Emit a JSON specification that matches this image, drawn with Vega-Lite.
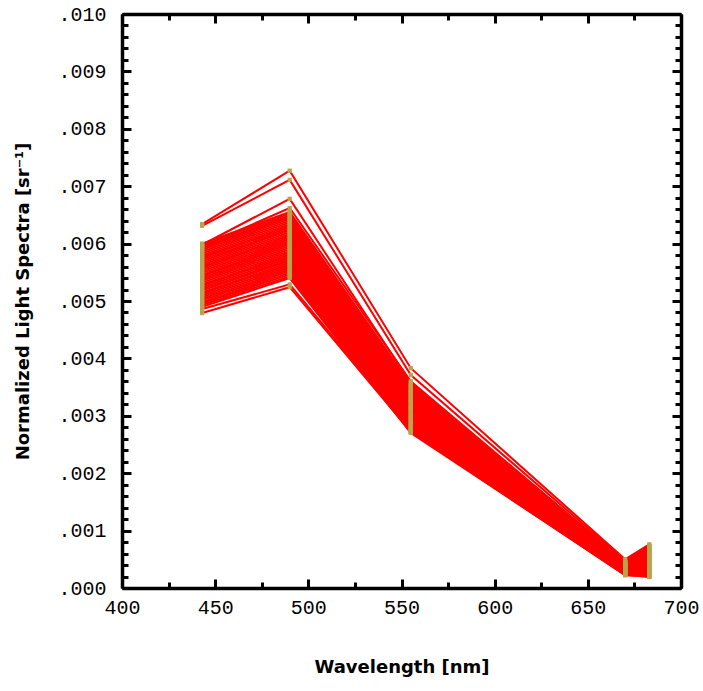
{
"$schema": "https://vega.github.io/schema/vega-lite/v6.json",
"width": 559, "height": 574,
"autosize": {"type": "none"},
"padding": {"left": 122, "top": 14, "right": 22, "bottom": 103},
"background": "white",
"config": {"view": {"stroke": null},
 "axis": {"grid": false, "domainColor": "#000", "domainWidth": 3.5, "tickColor": "#000", "tickWidth": 3, "labelOverlap": false, "labelFlush": false, "labelBound": false, "labelFont": "Liberation Mono", "labelFontSize": 20, "labelColor": "#000", "titleFont": "DejaVu Sans", "titleFontSize": 18, "titleFontWeight": "bold", "titleColor": "#000"}},
"data": {"values": [
{"s":"m0","w":443,"v":0.00490},{"s":"m0","w":490,"v":0.00540},{"s":"m0","w":555,"v":0.00270},{"s":"m0","w":670,"v":0.000230},{"s":"m0","w":683,"v":0.000190},
{"s":"m1","w":443,"v":0.00493},{"s":"m1","w":490,"v":0.00543},{"s":"m1","w":555,"v":0.00272},{"s":"m1","w":670,"v":0.000236},{"s":"m1","w":683,"v":0.000203},
{"s":"m2","w":443,"v":0.00496},{"s":"m2","w":490,"v":0.00546},{"s":"m2","w":555,"v":0.00274},{"s":"m2","w":670,"v":0.000241},{"s":"m2","w":683,"v":0.000216},
{"s":"m3","w":443,"v":0.00498},{"s":"m3","w":490,"v":0.00549},{"s":"m3","w":555,"v":0.00276},{"s":"m3","w":670,"v":0.000247},{"s":"m3","w":683,"v":0.000229},
{"s":"m4","w":443,"v":0.00501},{"s":"m4","w":490,"v":0.00552},{"s":"m4","w":555,"v":0.00279},{"s":"m4","w":670,"v":0.000252},{"s":"m4","w":683,"v":0.000242},
{"s":"m5","w":443,"v":0.00504},{"s":"m5","w":490,"v":0.00555},{"s":"m5","w":555,"v":0.00281},{"s":"m5","w":670,"v":0.000258},{"s":"m5","w":683,"v":0.000255},
{"s":"m6","w":443,"v":0.00507},{"s":"m6","w":490,"v":0.00558},{"s":"m6","w":555,"v":0.00283},{"s":"m6","w":670,"v":0.000264},{"s":"m6","w":683,"v":0.000268},
{"s":"m7","w":443,"v":0.00510},{"s":"m7","w":490,"v":0.00561},{"s":"m7","w":555,"v":0.00285},{"s":"m7","w":670,"v":0.000269},{"s":"m7","w":683,"v":0.000281},
{"s":"m8","w":443,"v":0.00513},{"s":"m8","w":490,"v":0.00564},{"s":"m8","w":555,"v":0.00287},{"s":"m8","w":670,"v":0.000275},{"s":"m8","w":683,"v":0.000294},
{"s":"m9","w":443,"v":0.00515},{"s":"m9","w":490,"v":0.00567},{"s":"m9","w":555,"v":0.00289},{"s":"m9","w":670,"v":0.000280},{"s":"m9","w":683,"v":0.000307},
{"s":"m10","w":443,"v":0.00518},{"s":"m10","w":490,"v":0.00570},{"s":"m10","w":555,"v":0.00292},{"s":"m10","w":670,"v":0.000286},{"s":"m10","w":683,"v":0.000320},
{"s":"m11","w":443,"v":0.00521},{"s":"m11","w":490,"v":0.00572},{"s":"m11","w":555,"v":0.00294},{"s":"m11","w":670,"v":0.000292},{"s":"m11","w":683,"v":0.000333},
{"s":"m12","w":443,"v":0.00524},{"s":"m12","w":490,"v":0.00575},{"s":"m12","w":555,"v":0.00296},{"s":"m12","w":670,"v":0.000297},{"s":"m12","w":683,"v":0.000346},
{"s":"m13","w":443,"v":0.00527},{"s":"m13","w":490,"v":0.00578},{"s":"m13","w":555,"v":0.00298},{"s":"m13","w":670,"v":0.000303},{"s":"m13","w":683,"v":0.000359},
{"s":"m14","w":443,"v":0.00529},{"s":"m14","w":490,"v":0.00581},{"s":"m14","w":555,"v":0.00300},{"s":"m14","w":670,"v":0.000308},{"s":"m14","w":683,"v":0.000372},
{"s":"m15","w":443,"v":0.00532},{"s":"m15","w":490,"v":0.00584},{"s":"m15","w":555,"v":0.00302},{"s":"m15","w":670,"v":0.000314},{"s":"m15","w":683,"v":0.000385},
{"s":"m16","w":443,"v":0.00535},{"s":"m16","w":490,"v":0.00587},{"s":"m16","w":555,"v":0.00304},{"s":"m16","w":670,"v":0.000320},{"s":"m16","w":683,"v":0.000398},
{"s":"m17","w":443,"v":0.00538},{"s":"m17","w":490,"v":0.00590},{"s":"m17","w":555,"v":0.00307},{"s":"m17","w":670,"v":0.000325},{"s":"m17","w":683,"v":0.000411},
{"s":"m18","w":443,"v":0.00541},{"s":"m18","w":490,"v":0.00593},{"s":"m18","w":555,"v":0.00309},{"s":"m18","w":670,"v":0.000331},{"s":"m18","w":683,"v":0.000424},
{"s":"m19","w":443,"v":0.00544},{"s":"m19","w":490,"v":0.00596},{"s":"m19","w":555,"v":0.00311},{"s":"m19","w":670,"v":0.000336},{"s":"m19","w":683,"v":0.000437},
{"s":"m20","w":443,"v":0.00546},{"s":"m20","w":490,"v":0.00599},{"s":"m20","w":555,"v":0.00313},{"s":"m20","w":670,"v":0.000342},{"s":"m20","w":683,"v":0.000450},
{"s":"m21","w":443,"v":0.00549},{"s":"m21","w":490,"v":0.00602},{"s":"m21","w":555,"v":0.00315},{"s":"m21","w":670,"v":0.000348},{"s":"m21","w":683,"v":0.000463},
{"s":"m22","w":443,"v":0.00552},{"s":"m22","w":490,"v":0.00605},{"s":"m22","w":555,"v":0.00317},{"s":"m22","w":670,"v":0.000353},{"s":"m22","w":683,"v":0.000476},
{"s":"m23","w":443,"v":0.00555},{"s":"m23","w":490,"v":0.00608},{"s":"m23","w":555,"v":0.00319},{"s":"m23","w":670,"v":0.000359},{"s":"m23","w":683,"v":0.000489},
{"s":"m24","w":443,"v":0.00558},{"s":"m24","w":490,"v":0.00611},{"s":"m24","w":555,"v":0.00322},{"s":"m24","w":670,"v":0.000364},{"s":"m24","w":683,"v":0.000502},
{"s":"m25","w":443,"v":0.00560},{"s":"m25","w":490,"v":0.00614},{"s":"m25","w":555,"v":0.00324},{"s":"m25","w":670,"v":0.000370},{"s":"m25","w":683,"v":0.000515},
{"s":"m26","w":443,"v":0.00563},{"s":"m26","w":490,"v":0.00617},{"s":"m26","w":555,"v":0.00326},{"s":"m26","w":670,"v":0.000376},{"s":"m26","w":683,"v":0.000528},
{"s":"m27","w":443,"v":0.00566},{"s":"m27","w":490,"v":0.00620},{"s":"m27","w":555,"v":0.00328},{"s":"m27","w":670,"v":0.000381},{"s":"m27","w":683,"v":0.000541},
{"s":"m28","w":443,"v":0.00569},{"s":"m28","w":490,"v":0.00623},{"s":"m28","w":555,"v":0.00330},{"s":"m28","w":670,"v":0.000387},{"s":"m28","w":683,"v":0.000554},
{"s":"m29","w":443,"v":0.00572},{"s":"m29","w":490,"v":0.00625},{"s":"m29","w":555,"v":0.00332},{"s":"m29","w":670,"v":0.000392},{"s":"m29","w":683,"v":0.000567},
{"s":"m30","w":443,"v":0.00575},{"s":"m30","w":490,"v":0.00628},{"s":"m30","w":555,"v":0.00335},{"s":"m30","w":670,"v":0.000398},{"s":"m30","w":683,"v":0.000580},
{"s":"m31","w":443,"v":0.00577},{"s":"m31","w":490,"v":0.00631},{"s":"m31","w":555,"v":0.00337},{"s":"m31","w":670,"v":0.000404},{"s":"m31","w":683,"v":0.000593},
{"s":"m32","w":443,"v":0.00580},{"s":"m32","w":490,"v":0.00634},{"s":"m32","w":555,"v":0.00339},{"s":"m32","w":670,"v":0.000409},{"s":"m32","w":683,"v":0.000606},
{"s":"m33","w":443,"v":0.00583},{"s":"m33","w":490,"v":0.00637},{"s":"m33","w":555,"v":0.00341},{"s":"m33","w":670,"v":0.000415},{"s":"m33","w":683,"v":0.000619},
{"s":"m34","w":443,"v":0.00586},{"s":"m34","w":490,"v":0.00640},{"s":"m34","w":555,"v":0.00343},{"s":"m34","w":670,"v":0.000420},{"s":"m34","w":683,"v":0.000632},
{"s":"m35","w":443,"v":0.00589},{"s":"m35","w":490,"v":0.00643},{"s":"m35","w":555,"v":0.00345},{"s":"m35","w":670,"v":0.000426},{"s":"m35","w":683,"v":0.000645},
{"s":"m36","w":443,"v":0.00592},{"s":"m36","w":490,"v":0.00646},{"s":"m36","w":555,"v":0.00347},{"s":"m36","w":670,"v":0.000432},{"s":"m36","w":683,"v":0.000658},
{"s":"m37","w":443,"v":0.00594},{"s":"m37","w":490,"v":0.00649},{"s":"m37","w":555,"v":0.00350},{"s":"m37","w":670,"v":0.000437},{"s":"m37","w":683,"v":0.000671},
{"s":"m38","w":443,"v":0.00597},{"s":"m38","w":490,"v":0.00652},{"s":"m38","w":555,"v":0.00352},{"s":"m38","w":670,"v":0.000443},{"s":"m38","w":683,"v":0.000684},
{"s":"m39","w":443,"v":0.00600},{"s":"m39","w":490,"v":0.00655},{"s":"m39","w":555,"v":0.00354},{"s":"m39","w":670,"v":0.000448},{"s":"m39","w":683,"v":0.000697},
{"s":"o1","w":443,"v":0.00634},{"s":"o1","w":490,"v":0.00727},{"s":"o1","w":555,"v":0.00383},{"s":"o1","w":670,"v":0.000500},{"s":"o1","w":683,"v":0.000760},
{"s":"o2","w":443,"v":0.00631},{"s":"o2","w":490,"v":0.00711},{"s":"o2","w":555,"v":0.00371},{"s":"o2","w":670,"v":0.000480},{"s":"o2","w":683,"v":0.000740},
{"s":"o3","w":443,"v":0.00598},{"s":"o3","w":490,"v":0.00678},{"s":"o3","w":555,"v":0.00357},{"s":"o3","w":670,"v":0.000460},{"s":"o3","w":683,"v":0.000720},
{"s":"o4","w":443,"v":0.00479},{"s":"o4","w":490,"v":0.00524},{"s":"o4","w":555,"v":0.00272},{"s":"o4","w":670,"v":0.000220},{"s":"o4","w":683,"v":0.000200},
{"s":"o5","w":443,"v":0.00486},{"s":"o5","w":490,"v":0.00529},{"s":"o5","w":555,"v":0.00275},{"s":"o5","w":670,"v":0.000240},{"s":"o5","w":683,"v":0.000220},
{"s":"o6","w":443,"v":0.00595},{"s":"o6","w":490,"v":0.00662},{"s":"o6","w":555,"v":0.00360},{"s":"o6","w":670,"v":0.000450},{"s":"o6","w":683,"v":0.000700}
]},
"layer": [
 {"mark": {"type": "line", "color": "#ff0000", "strokeWidth": 2},
  "encoding": {
   "x": {"field": "w", "type": "quantitative", "scale": {"domain": [400, 700], "nice": false, "zero": false},
     "axis": {"orient": "bottom", "title": "Wavelength [nm]", "values": [400,425,450,475,500,525,550,575,600,625,650,675,700],
       "tickSize": {"expr": "datum.value % 50 == 0 ? -9 : -6"},
       "labelExpr": "datum.value % 50 == 0 ? datum.label : ''", "labelPadding": 18, "titlePadding": 38}},
   "y": {"field": "v", "type": "quantitative", "scale": {"domain": [0, 0.01], "nice": false, "zero": false},
     "axis": {"orient": "left", "title": "Normalized Light Spectra [sr⁻¹]",
       "values": [0,0.0002,0.0004,0.0006,0.0008,0.001,0.0012,0.0014,0.0016,0.0018,0.002,0.0022,0.0024,0.0026,0.0028,0.003,0.0032,0.0034,0.0036,0.0038,0.004,0.0042,0.0044,0.0046,0.0048,0.005,0.0052,0.0054,0.0056,0.0058,0.006,0.0062,0.0064,0.0066,0.0068,0.007,0.0072,0.0074,0.0076,0.0078,0.008,0.0082,0.0084,0.0086,0.0088,0.009,0.0092,0.0094,0.0096,0.0098,0.01],
       "tickSize": {"expr": "abs(datum.value*1000 - round(datum.value*1000)) < 0.000001 ? -9 : -6"},
       "labelExpr": "abs(datum.value*1000 - round(datum.value*1000)) < 0.000001 ? replace(format(datum.value, '.3f'), '0.', '.') : ''",
       "labelPadding": 25, "titlePadding": 25}},
   "detail": {"field": "s"}}},
 {"mark": {"type": "point", "shape": "square", "filled": true, "color": "#b9a44c", "size": 18, "opacity": 1},
  "encoding": {
   "x": {"field": "w", "type": "quantitative",
     "axis": {"orient": "top", "title": null, "labels": false, "values": [400,425,450,475,500,525,550,575,600,625,650,675,700],
       "tickSize": {"expr": "datum.value % 50 == 0 ? -9 : -6"}}},
   "y": {"field": "v", "type": "quantitative",
     "axis": {"orient": "right", "title": null, "labels": false,
       "values": [0,0.0002,0.0004,0.0006,0.0008,0.001,0.0012,0.0014,0.0016,0.0018,0.002,0.0022,0.0024,0.0026,0.0028,0.003,0.0032,0.0034,0.0036,0.0038,0.004,0.0042,0.0044,0.0046,0.0048,0.005,0.0052,0.0054,0.0056,0.0058,0.006,0.0062,0.0064,0.0066,0.0068,0.007,0.0072,0.0074,0.0076,0.0078,0.008,0.0082,0.0084,0.0086,0.0088,0.009,0.0092,0.0094,0.0096,0.0098,0.01],
       "tickSize": {"expr": "abs(datum.value*1000 - round(datum.value*1000)) < 0.000001 ? -9 : -6"}}}}}
],
"resolve": {"axis": {"x": "independent", "y": "independent"}}
}
